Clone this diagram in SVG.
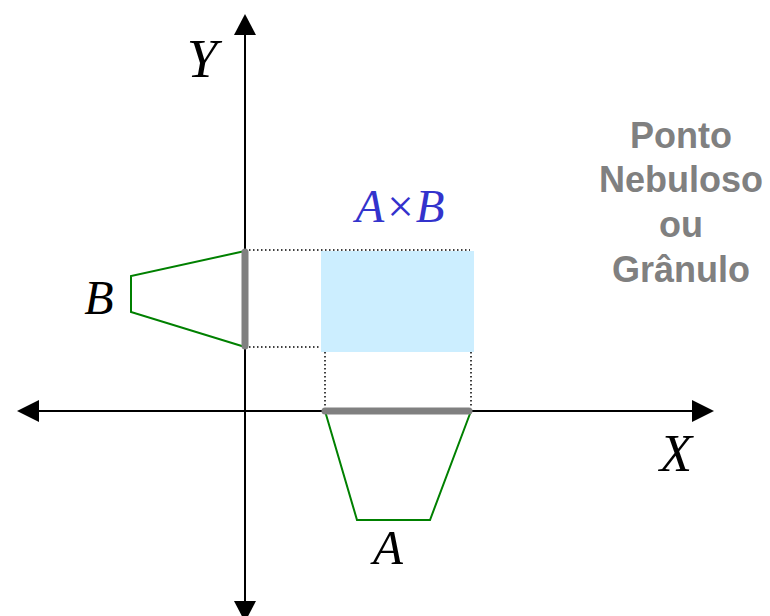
<svg xmlns="http://www.w3.org/2000/svg" width="770" height="616" viewBox="0 0 770 616">
<style>
.axis{stroke:#000;stroke-width:2;fill:none}
.head{fill:#000;stroke:none}
.dot{stroke:#000;stroke-width:1.5;stroke-dasharray:1.5 2.5;fill:none}
.fuzzy{stroke:#008000;stroke-width:2;fill:none;stroke-linejoin:miter}
.bar{stroke:#808080;stroke-width:7;stroke-linecap:round;fill:none}
.lbl{font-family:"Liberation Serif","Times New Roman",serif;font-style:italic;fill:#000;text-anchor:middle}
.note{font-family:"Liberation Sans",Arial,sans-serif;font-weight:bold;font-size:36px;fill:#808080;text-anchor:middle}
</style>
<rect width="770" height="616" fill="#fff"/>
<g id="product">
<rect x="321" y="251" width="153" height="101" fill="#cceeff"/>
</g>
<g id="connectors">
<line class="dot" x1="249" y1="250" x2="470" y2="250"/>
<line class="dot" x1="249" y1="347" x2="320" y2="347"/>
<line class="dot" x1="325" y1="352" x2="325" y2="408"/>
<line class="dot" x1="471" y1="352" x2="471" y2="408"/>
<line class="axis" x1="245" y1="32" x2="245" y2="604"/>
<polygon class="head" points="245,14 234,35 256,35"/>
<polygon class="head" points="234,601 256,601 245,622"/>
<line class="axis" x1="36" y1="411" x2="694" y2="411"/>
<polygon class="head" points="17,411 39,400 39,422"/>
<polygon class="head" points="714,411 692,400 692,422"/>
</g>
<g id="setB">
<polyline class="fuzzy" points="245,251 131,276 131,312 245,347"/>
<line class="bar" x1="245" y1="252" x2="245" y2="346"/>
</g>
<g id="setA">
<polyline class="fuzzy" points="325,411 357,520 430,520 471,411"/>
<line class="bar" x1="325" y1="411" x2="469" y2="411"/>
</g>
<g id="labels">
<text class="lbl" x="202" y="77" font-size="55">Y</text>
<text class="lbl" x="676" y="471" font-size="53">X</text>
<text class="lbl" x="99" y="314" font-size="48">B</text>
<text class="lbl" x="388" y="564" font-size="49">A</text>
<text class="lbl" x="400" y="222" font-size="47" style="fill:#3333cc">A×B</text>
</g>
<g id="note">
<text class="note" x="681" y="148">Ponto</text>
<text class="note" x="681" y="192">Nebuloso</text>
<text class="note" x="681" y="237">ou</text>
<text class="note" x="681" y="282">Grânulo</text>
</g>
</svg>
